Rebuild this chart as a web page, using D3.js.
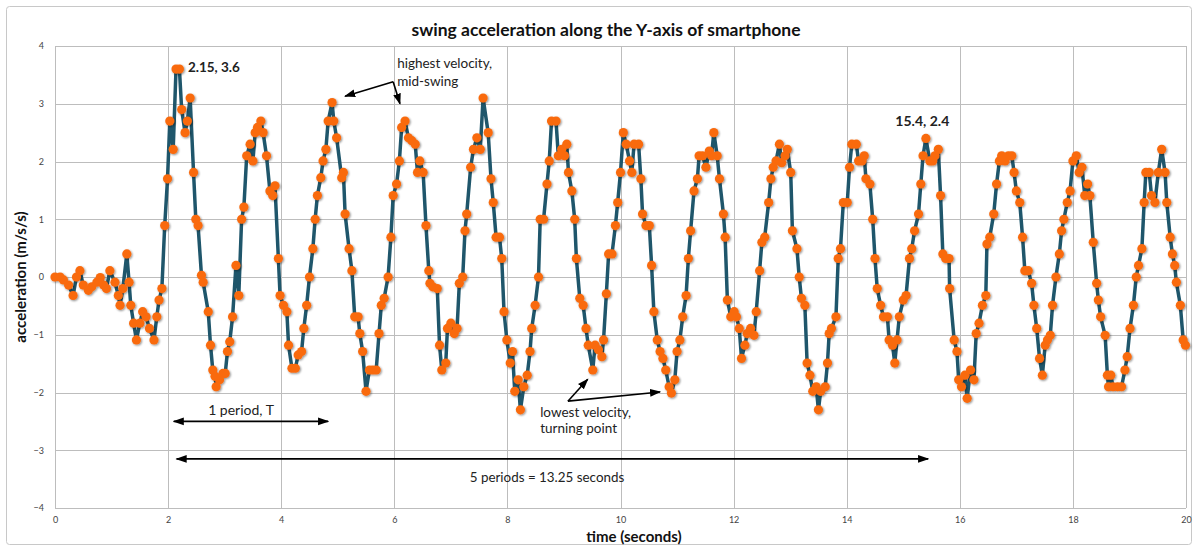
<!DOCTYPE html>
<html><head><meta charset="utf-8">
<script src="https://cdn.jsdelivr.net/npm/d3@7"></script>
<style>
html,body{margin:0;padding:0;background:#fff;}
svg{display:block;font-family:Lato,"Open Sans",sans-serif;}
</style></head><body>
<svg id="c" width="1198" height="546"></svg>
<script>
const time = [0.0,0.09,0.15,0.24,0.32,0.38,0.44,0.5,0.59,0.65,0.74,0.8,0.86,0.91,0.97,1.06,1.12,1.15,1.2,1.27,1.31,1.34,1.39,1.44,1.5,1.55,1.61,1.67,1.75,1.8,1.84,1.89,1.94,1.99,2.03,2.09,2.14,2.2,2.24,2.3,2.34,2.39,2.45,2.49,2.53,
2.59,2.62,2.71,2.75,2.79,2.83,2.85,2.91,2.97,3.01,3.05,3.09,3.14,3.2,3.25,3.3,3.34,3.39,3.45,3.5,3.54,3.58,3.64,3.68,3.74,3.8,3.85,3.89,3.95,3.98,4.04,4.1,4.13,4.19,4.25,4.3,4.36,4.4,4.45,4.5,4.56,4.6,4.64,4.7,4.74,4.79,4.83,4.9,4.93,4.98,
5.07,5.1,5.13,5.2,5.25,5.3,5.36,5.39,5.44,5.5,5.56,5.62,5.68,5.73,5.77,5.82,5.89,5.94,5.98,6.04,6.09,6.13,6.19,6.25,6.31,6.37,6.41,6.45,6.51,6.56,6.61,6.63,6.68,6.76,6.8,6.84,6.91,6.94,7.0,7.06,7.11,7.15,7.21,7.25,7.28,7.35,7.4,7.46,
7.52,7.57,7.66,7.71,7.75,7.8,7.86,7.9,7.94,7.99,8.05,8.09,8.13,8.19,8.23,8.29,8.35,8.4,8.43,8.49,8.55,8.58,8.64,8.7,8.74,8.78,8.86,8.9,8.96,9.01,9.05,9.08,9.14,9.19,9.22,9.28,9.34,9.39,9.43,9.51,9.55,9.61,9.67,9.7,9.75,9.79,9.85,9.91,9.95,10.0,
10.05,10.1,10.16,10.2,10.24,10.32,10.36,10.39,10.45,10.51,10.55,10.59,10.65,10.7,10.75,10.8,10.86,10.9,10.96,11.0,11.05,11.1,11.16,11.2,11.24,11.3,11.36,11.39,11.45,11.51,11.57,11.61,11.65,11.71,11.75,11.82,11.85,11.89,11.95,12.01,12.05,12.1,12.14,12.2,12.24,12.3,12.36,
12.4,12.46,12.5,12.55,12.62,12.66,12.7,12.75,12.81,12.85,12.91,12.95,13.01,13.04,13.12,13.16,13.2,13.26,13.3,13.35,13.4,13.46,13.5,13.54,13.62,13.66,13.69,13.73,13.81,13.85,13.89,13.94,14.01,14.05,14.09,14.17,14.21,14.27,14.31,14.34,14.41,14.46,14.5,14.54,14.6,14.65,14.72,14.75,14.81,14.85,14.89,14.93,
15.0,15.05,15.11,15.15,15.2,15.27,15.31,15.35,15.4,15.47,15.52,15.56,15.62,15.66,15.7,15.75,15.81,15.82,15.9,15.95,15.98,16.03,16.09,16.13,16.19,16.25,16.29,16.34,16.4,16.46,16.48,16.53,16.6,16.65,16.7,16.74,16.8,16.86,16.92,16.96,17.0,17.06,17.11,17.15,17.21,
17.27,17.31,17.36,17.41,17.46,17.51,17.55,17.6,17.64,17.7,17.76,17.8,17.84,17.9,17.95,18.0,18.06,18.11,18.16,18.21,18.26,18.3,18.36,18.42,18.45,18.49,18.57,18.61,18.63,18.67,18.71,18.79,18.86,18.92,18.96,19.01,19.07,19.12,19.16,19.22,19.26,19.29,19.35,19.39,19.45,19.51,19.57,19.63,19.66,19.72,19.76,19.8,19.83,19.9,19.95,19.99];
const accel = [0,0,-0.05,-0.14,-0.32,0,0.11,-0.14,-0.23,-0.17,-0.09,-0.01,-0.14,-0.2,0.11,-0.09,-0.32,-0.49,-0.2,0.4,-0.09,-0.49,-0.8,-1.09,-0.8,-0.6,-0.69,-0.89,-1.09,-0.69,-0.4,-0.2,0.89,1.7,2.7,2.21,3.6,3.6,2.9,2.5,2.7,3.1,1.81,1.0,0.89,
0.03,-0.09,-0.6,-1.18,-1.61,-1.72,-1.9,-1.78,-1.67,-1.67,-1.29,-1.12,-0.69,0.2,-0.32,1.0,1.21,2.1,2.3,2.01,2.5,2.59,2.7,2.5,2.1,1.49,1.41,1.58,0.32,-0.32,-0.49,-0.6,-1.18,-1.58,-1.58,-1.35,-1.29,-0.89,-0.49,0,0.49,1.0,1.41,1.72,2.01,2.21,2.7,3.02,2.7,2.41,
1.72,1.81,1.09,0.49,0.11,-0.69,-0.69,-0.98,-1.29,-1.98,-1.61,-1.61,-1.61,-0.98,-0.49,-0.37,0,0.69,1.41,1.61,2.01,2.59,2.7,2.41,2.36,2.3,1.81,2.01,1.81,0.89,0.11,-0.11,-0.17,-0.2,-1.18,-1.61,-1.49,-0.89,-0.8,-0.98,-0.89,-0.11,0,0.8,1.09,1.9,2.21,2.41,
2.21,3.1,2.5,1.7,1.29,0.69,0.69,0.32,-0.6,-1.09,-1.49,-1.29,-1.98,-1.78,-2.3,-1.9,-1.7,-1.29,-0.89,-0.49,0,1.0,1.0,1.61,2.01,2.7,2.7,2.1,2.21,2.1,2.3,1.81,1.49,1.0,0.32,-0.37,-0.49,-0.89,-1.18,-1.61,-1.18,-1.26,-1.38,-1.09,-0.29,0.4,0.4,0.89,1.29,1.81,
2.5,2.3,2.01,1.81,2.3,2.3,1.7,1.09,0.89,0.89,0.2,-0.6,-1.09,-1.29,-1.41,-1.61,-1.9,-2.01,-1.78,-1.29,-1.09,-0.69,-0.32,0.32,0.8,1.49,1.7,2.1,2.1,1.9,2.18,2.1,2.5,2.1,1.7,1.09,0.69,-0.4,-0.69,-0.6,-0.69,-0.89,-1.41,-1.18,-0.98,-0.89,-1.01,
-0.6,0.11,0.6,0.69,1.29,1.7,1.9,2.01,2.3,1.98,2.1,2.21,1.81,0.8,0.49,0,-0.37,-0.49,-1.49,-1.7,-1.98,-1.9,-2.3,-1.98,-1.9,-1.49,-0.98,-0.89,-0.69,0.32,0.49,1.29,1.29,1.9,2.3,2.3,2.01,2.01,2.1,1.7,1.61,1.0,0.32,-0.2,-0.49,-0.69,-0.69,-1.09,-1.18,-1.49,-1.09,-0.69,
-0.4,-0.32,0.32,0.49,0.8,1.09,1.61,2.1,2.4,2.01,2.01,2.1,2.21,1.41,0.4,0.32,0.32,-0.2,-1.09,-1.29,-1.78,-1.9,-1.7,-2.1,-1.61,-1.78,-0.98,-0.8,-0.49,-0.32,0.57,0.69,1.09,1.61,2.01,2.1,2.01,2.1,2.1,1.81,1.49,1.29,0.69,0.11,0.11,
-0.11,-0.49,-0.89,-1.41,-1.7,-1.18,-1.09,-1.01,-0.49,0,0.4,0.8,1.0,1.29,1.49,2.01,2.1,1.81,1.9,1.41,1.61,1.41,0.6,-0.11,-0.4,-0.69,-1.01,-1.7,-1.9,-1.7,-1.9,-1.9,-1.9,-1.61,-1.38,-0.89,-0.49,0,0.2,0.49,1.29,1.81,1.81,1.41,1.29,1.81,2.21,1.81,1.29,0.69,0.4,0.2,-0.09,-0.49,-1.09,-1.18];
const xTicks = [0,2,4,6,8,10,12,14,16,18,20];
const yTicks = [-4,-3,-2,-1,0,1,2,3,4];
const title = "swing acceleration along the Y-axis of smartphone";
const xTitle = "time (seconds)";
const yTitle = "acceleration (m/s/s)";

const svg = d3.select("#c");
const W = 1198, H = 546;
const m = {l:55, r:12, t:46, b:38};
const x = d3.scaleLinear().domain([0,20]).range([m.l, W - m.r]);
const y = d3.scaleLinear().domain([-4,4]).range([H - m.b, m.t]);

// outer frame
svg.append("rect").attr("x",6.5).attr("y",6.5).attr("width",W-13).attr("height",H-8)
  .attr("rx",3).attr("fill","#fff").attr("stroke","#c8c8c8").attr("stroke-width",1);

// defs
const defs = svg.append("defs");
const f = defs.append("filter").attr("id","sh").attr("x","-50%").attr("y","-50%").attr("width","200%").attr("height","200%");
f.append("feGaussianBlur").attr("in","SourceAlpha").attr("stdDeviation",0.8).attr("result","b");
f.append("feOffset").attr("in","b").attr("dx",0.6).attr("dy",0.8).attr("result","o");
f.append("feComponentTransfer").attr("in","o").attr("result","o2").append("feFuncA").attr("type","linear").attr("slope",0.45);
const fm = f.append("feMerge"); fm.append("feMergeNode").attr("in","o2"); fm.append("feMergeNode").attr("in","SourceGraphic");
defs.append("marker").attr("id","ah").attr("viewBox","0 0 10 10").attr("refX",9).attr("refY",5)
  .attr("markerWidth",7).attr("markerHeight",7).attr("orient","auto-start-reverse")
  .append("path").attr("d","M0,1.5 L10,5 L0,8.5 z").attr("fill","#000");

// grid
const g = svg.append("g");
g.selectAll(".hg").data(yTicks).join("line")
  .attr("x1",x(0)).attr("x2",x(20)).attr("y1",d=>Math.round(y(d))+0.5).attr("y2",d=>Math.round(y(d))+0.5)
  .attr("stroke","#bdbdbd").attr("stroke-width",1);
g.selectAll(".vg").data(xTicks).join("line")
  .attr("y1",y(4)).attr("y2",y(-4)).attr("x1",d=>Math.round(x(d))+0.5).attr("x2",d=>Math.round(x(d))+0.5)
  .attr("stroke","#bdbdbd").attr("stroke-width",1);

// axes
const xa = svg.append("g").attr("transform",`translate(0,${y(-4)})`)
  .call(d3.axisBottom(x).tickValues(xTicks).tickSize(0).tickPadding(9).tickFormat(d3.format("d")));
const ya = svg.append("g").attr("transform",`translate(${x(0)},0)`)
  .call(d3.axisLeft(y).tickValues(yTicks).tickSize(0).tickPadding(11).tickFormat(d3.format("d")));
[xa,ya].forEach(a=>{a.select(".domain").remove();
  a.selectAll("text").attr("font-family","Lato, sans-serif").attr("font-size",9).attr("fill","#444");});

// line + points
const pts = time.map((t,i)=>[t,accel[i]]);
svg.append("path").datum(pts)
  .attr("d", d3.line().x(d=>x(d[0])).y(d=>y(d[1])))
  .attr("fill","none").attr("stroke","#1f566b").attr("stroke-width",3.5).attr("stroke-linejoin","round");
svg.append("g").attr("filter","url(#sh)").selectAll("circle").data(pts).join("circle")
  .attr("cx",d=>x(d[0])).attr("cy",d=>y(d[1])).attr("r",4.6).attr("fill","#f96b10");

// titles
svg.append("text").attr("x",606).attr("y",36).attr("text-anchor","middle")
  .attr("font-size",17.5).attr("font-weight","bold").attr("fill","#111").text(title);
svg.append("text").attr("x",634).attr("y",542).attr("text-anchor","middle")
  .attr("font-size",15).attr("font-weight","bold").attr("fill","#111").text(xTitle);
svg.append("text").attr("transform",`translate(26,${y(0)}) rotate(-90)`).attr("text-anchor","middle")
  .attr("font-size",15).attr("font-weight","bold").attr("fill","#111").text(yTitle);

// annotations
const ann = svg.append("g").attr("fill","#222");
ann.append("text").attr("x",x(2.35)).attr("y",y(3.55)).attr("font-size",13.5).attr("font-weight","bold").text("2.15, 3.6");
ann.append("text").attr("x",x(14.86)).attr("y",y(2.62)).attr("font-size",14).attr("font-weight","bold").text("15.4, 2.4");
ann.append("text").attr("x",x(6.05)).attr("y",y(3.62)).attr("font-size",13.5).text("highest velocity,");
ann.append("text").attr("x",x(6.05)).attr("y",y(3.3)).attr("font-size",13.5).text("mid-swing");
ann.append("text").attr("x",x(8.58)).attr("y",y(-2.43)).attr("font-size",13.5).text("lowest velocity,");
ann.append("text").attr("x",x(8.58)).attr("y",y(-2.7)).attr("font-size",13.5).text("turning point");
ann.append("text").attr("x",x(3.29)).attr("y",y(-2.39)).attr("text-anchor","middle").attr("font-size",14).text("1 period, T");
ann.append("text").attr("x",x(8.7)).attr("y",y(-3.55)).attr("text-anchor","middle").attr("font-size",13.4).text("5 periods = 13.25 seconds");

function arrow(x1,y1,x2,y2,both){
  const l = svg.append("line").attr("x1",x(x1)).attr("y1",y(y1)).attr("x2",x(x2)).attr("y2",y(y2))
    .attr("stroke","#000").attr("stroke-width",1.6).attr("marker-end","url(#ah)");
  if(both) l.attr("marker-start","url(#ah)");
}
arrow(5.98,3.38,5.13,3.13);
arrow(5.98,3.38,6.1,3.0);
arrow(9.07,-2.15,9.42,-1.77);
arrow(9.07,-2.15,10.7,-1.99);
arrow(2.1,-2.5,4.83,-2.5,true);
arrow(2.15,-3.15,15.44,-3.15,true);
</script>
</body></html>
